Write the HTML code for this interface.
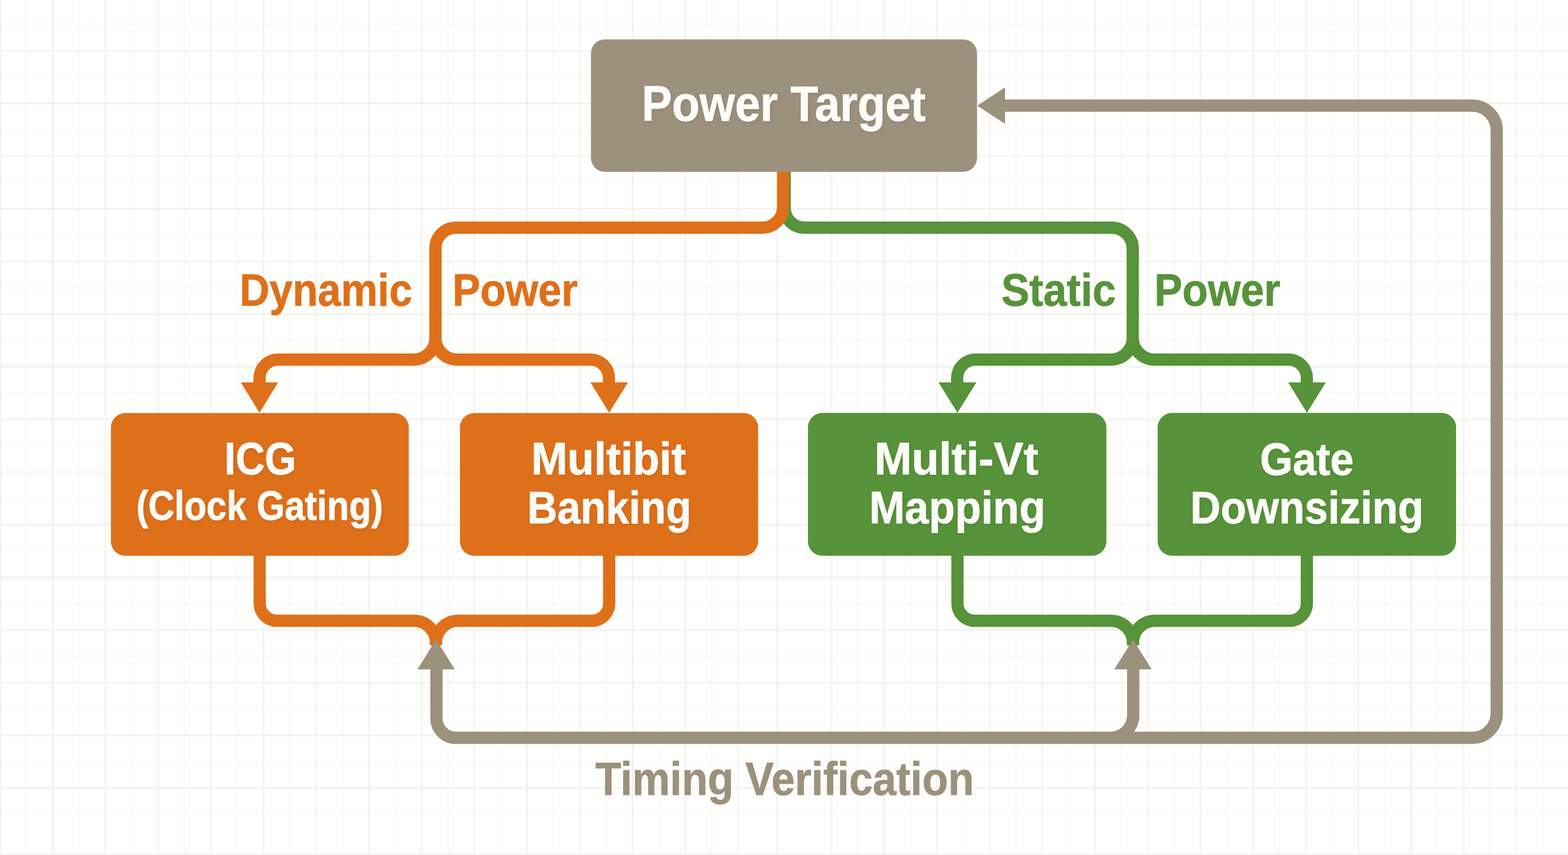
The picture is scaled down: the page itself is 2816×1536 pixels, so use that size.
<!DOCTYPE html>
<html lang="en">
<head>
<meta charset="utf-8">
<title>Power Target Flow</title>
<style>
html,body{margin:0;padding:0;background:#fefefc;}
body{width:2816px;height:1536px;overflow:hidden;}
svg{display:block;}
text{font-family:"Liberation Sans",sans-serif;font-weight:700;stroke-width:0.9px;stroke-linejoin:round;}
.w{stroke:#fdfcf8;filter:url(#ts);}
.o{stroke:#df701a;}
.g{stroke:#57933a;}
.t{stroke:#9c917d;}
</style>
</head>
<body>
<svg width="2816" height="1536" viewBox="0 0 2816 1536">

<defs><filter id="ts" x="-10%" y="-30%" width="120%" height="160%"><feDropShadow dx="1.5" dy="2" stdDeviation="3.5" flood-color="#000" flood-opacity="0.09"/></filter></defs>
<rect width="2816" height="1536" fill="#fefefc"/>
<path d="M47.3 0V1536M142.0 0V1536M236.7 0V1536M331.4 0V1536M426.1 0V1536M520.7 0V1536M615.4 0V1536M710.1 0V1536M804.8 0V1536M899.5 0V1536M994.1 0V1536M1088.8 0V1536M1183.5 0V1536M1278.2 0V1536M1540.9 0V1536M1635.5 0V1536M1730.1 0V1536M1824.7 0V1536M1919.3 0V1536M2013.9 0V1536M2108.5 0V1536M2203.1 0V1536M2297.7 0V1536M2392.3 0V1536M2486.9 0V1536M2581.5 0V1536M2676.1 0V1536M2770.7 0V1536M0 43.8H2816M0 138.4H2816M0 233.0H2816M0 327.7H2816M0 422.3H2816M0 516.9H2816M0 611.5H2816M0 706.1H2816M0 800.8H2816M0 895.4H2816M0 990.0H2816M0 1084.6H2816M0 1179.2H2816M0 1273.9H2816M0 1368.5H2816M0 1463.1H2816" fill="none" stroke="#000" stroke-opacity="0.024" stroke-width="2.2"/>
<path d="M1.0 0V1536M94.7 0V1536M189.4 0V1536M284.0 0V1536M378.7 0V1536M473.4 0V1536M568.1 0V1536M662.8 0V1536M757.4 0V1536M852.1 0V1536M946.8 0V1536M1041.5 0V1536M1136.2 0V1536M1230.8 0V1536M1325.5 0V1536M1395.8 0V1536M1493.6 0V1536M1588.2 0V1536M1682.8 0V1536M1777.4 0V1536M1872.0 0V1536M1966.6 0V1536M2061.2 0V1536M2155.8 0V1536M2250.4 0V1536M2345.0 0V1536M2439.6 0V1536M2534.2 0V1536M2628.8 0V1536M2723.4 0V1536M0 91.1H2816M0 185.7H2816M0 280.4H2816M0 375.0H2816M0 469.6H2816M0 564.2H2816M0 658.8H2816M0 753.5H2816M0 848.1H2816M0 942.7H2816M0 1037.3H2816M0 1131.9H2816M0 1226.5H2816M0 1321.2H2816M0 1415.8H2816M0 1535H2816" fill="none" stroke="#000" stroke-opacity="0.056" stroke-width="2.4"/>
<path d="M1409.3 300 V373.9 A35 35 0 0 0 1444.3 408.9 H1996.3 A38 38 0 0 1 2034.3 446.9 V600 M2034.3 590 V607 A39 39 0 0 1 1995.3 646 H1752 A33 33 0 0 0 1719 679 V690 M2034.3 590 V607 A39 39 0 0 0 2073.3 646 H2314 A33 33 0 0 1 2347 679 V690 M1719.5 990 V1084.2 A31 31 0 0 0 1750.5 1115.2 H1995.2 A39.5 39.5 0 0 1 2034.7 1154.7 V1159.5 M2347 990 V1084.2 A31 31 0 0 1 2316 1115.2 H2074.2 A39.5 39.5 0 0 0 2034.7 1154.7 V1159.5" fill="none" stroke="#57933a" stroke-width="22"/>
<polygon points="1685.5,687 1753.5,687 1719.5,741.5" fill="#57933a"/>
<polygon points="2313.5,687 2381,687 2347.2,741.5" fill="#57933a"/>
<path d="M1406.4 300 V371.9 A37 37 0 0 1 1369.4 408.9 H819.0 A37 37 0 0 0 782.0 445.9 V600 M782.0 590 V607 A39 39 0 0 1 743.0 646 H499.2 A33 33 0 0 0 466.2 679 V690 M782.0 590 V607 A39 39 0 0 0 821.0 646 H1060.6 A33 33 0 0 1 1093.6 679 V690 M466.4 990 V1084.2 A31 31 0 0 0 497.4 1115.2 H743.5 A39.5 39.5 0 0 1 783.0 1154.7 V1159.5 M1094 990 V1084.2 A31 31 0 0 1 1063 1115.2 H822.5 A39.5 39.5 0 0 0 783.0 1154.7 V1159.5" fill="none" stroke="#df701a" stroke-width="22"/>
<polygon points="432.5,687 499.5,687 466,741.5" fill="#df701a"/>
<polygon points="1060.3,687 1127.8,687 1094,741.5" fill="#df701a"/>
<path d="M783.8 1200 V1290.6 A35 35 0 0 0 818.8 1325.6 H2644 A44 44 0 0 0 2688 1281.6 V233.8 A44 44 0 0 0 2644 189.8 H1800 M2035.2 1200 V1284.6 A41 41 0 0 1 1994.2 1325.6" fill="none" stroke="#9c917d" stroke-width="22"/>
<polygon points="749.8,1202.4 816.8,1202.4 783.0,1148.8" fill="#9c917d"/>
<polygon points="2001.2,1202.4 2068.3,1202.4 2034.7,1148.8" fill="#9c917d"/>
<polygon points="1805,157 1805,222.6 1755,189.8" fill="#9c917d"/>
<rect x="1061.3" y="70.7" width="693.4" height="238.0" rx="25" ry="25" fill="#9c917d"/>
<rect x="199.2" y="742.0" width="534.9" height="256.6" rx="26" ry="26" fill="#df701a"/>
<rect x="826.0" y="742.0" width="535.5" height="256.6" rx="26" ry="26" fill="#df701a"/>
<rect x="1451.0" y="741.8" width="536.0" height="256.8" rx="26" ry="26" fill="#57933a"/>
<rect x="2079.1" y="741.8" width="535.9" height="256.8" rx="26" ry="26" fill="#57933a"/>
<text class="w" transform="translate(1152.51 216.90) scale(0.9184 1)" font-size="88.70" fill="#fdfcf8">Power Target</text>
<text class="o" transform="translate(430.37 549.20) scale(0.9132 1)" font-size="81.45" fill="#df701a">Dynamic</text>
<text class="o" transform="translate(812.42 549.20) scale(0.9208 1)" font-size="81.45" fill="#df701a">Power</text>
<text class="g" transform="translate(1798.23 549.20) scale(0.9274 1)" font-size="81.45" fill="#57933a">Static</text>
<text class="g" transform="translate(2072.99 549.20) scale(0.9267 1)" font-size="81.45" fill="#57933a">Power</text>
<text class="w" transform="translate(403.08 852.40) scale(0.8844 1)" font-size="82.03" fill="#fdfcf8">ICG</text>
<text class="w" transform="translate(244.65 934.40) scale(0.8748 1)" font-size="74.20" fill="#fdfcf8">(Clock Gating)</text>
<text class="w" transform="translate(953.91 852.40) scale(0.9546 1)" font-size="82.03" fill="#fdfcf8">Multibit</text>
<text class="w" transform="translate(947.05 939.70) scale(0.9087 1)" font-size="82.17" fill="#fdfcf8">Banking</text>
<text class="w" transform="translate(1570.38 852.40) scale(0.9797 1)" font-size="82.03" fill="#fdfcf8">Multi-Vt</text>
<text class="w" transform="translate(1561.00 939.70) scale(0.9369 1)" font-size="82.17" fill="#fdfcf8">Mapping</text>
<text class="w" transform="translate(2262.67 852.90) scale(0.9248 1)" font-size="82.03" fill="#fdfcf8">Gate</text>
<text class="w" transform="translate(2137.80 939.60) scale(0.9176 1)" font-size="82.17" fill="#fdfcf8">Downsizing</text>
<text class="t" transform="translate(1069.14 1427.50) scale(0.9129 1)" font-size="83.48" fill="#9c917d">Timing Verification</text>
</svg>
</body>
</html>
